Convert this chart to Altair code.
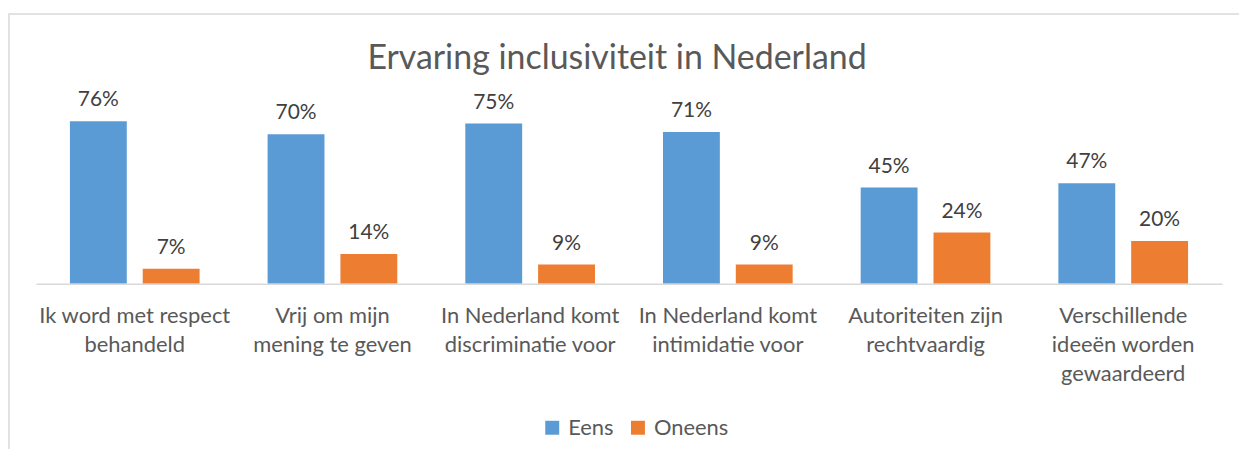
import altair as alt
import pandas as pd

categories = [
    "Ik word met respect|behandeld",
    "Vrij om mijn|mening te geven",
    "In Nederland komt|discriminatie voor",
    "In Nederland komt|intimidatie voor",
    "Autoriteiten zijn|rechtvaardig",
    "Verschillende|ideeën worden|gewaardeerd",
]
eens = [0.76, 0.70, 0.75, 0.71, 0.45, 0.47]
oneens = [0.07, 0.14, 0.09, 0.09, 0.24, 0.20]
series = ["Eens", "Oneens"]
colors = ["#5B9BD5", "#ED7D31"]
title_text = "Ervaring inclusiviteit in Nederland"

rows = []
for c, e, o in zip(categories, eens, oneens):
    rows.append({"cat": c, "serie": "Eens", "val": e})
    rows.append({"cat": c, "serie": "Oneens", "val": o})
df = pd.DataFrame(rows)

W = 1190
H = 171.6
FONT = "Lato"

x = alt.X("cat:N", sort=categories, title=None,
          scale=alt.Scale(paddingInner=0.344, paddingOuter=0.172),
          axis=alt.Axis(labelExpr="split(datum.label, '|')", labelAngle=0,
                        labelFontSize=22, labelColor="#595959", labelFont=FONT,
                        labelLineHeight=29, labelBaseline="top", labelPadding=22,
                        ticks=False, domainColor="#D9D9D9", domainWidth=1.5,
                        labelLimit=250, zindex=1))
xo = alt.XOffset("serie:N", sort=series,
                 scale=alt.Scale(paddingInner=0.219, paddingOuter=0))
y = alt.Y("val:Q", scale=alt.Scale(domain=[0, 0.8]), axis=None)

border = alt.Chart(pd.DataFrame({"a": [0]})).mark_rect(
    fillOpacity=0, stroke="#D9D9D9", strokeWidth=1.5
).encode(x=alt.value(-27), x2=alt.value(W + 80), y=alt.value(-99), y2=alt.value(H + 300))

title = alt.Chart(pd.DataFrame({"t": [title_text]})).mark_text(
    fontSize=34, font=FONT, color="#595959", baseline="alphabetic", align="center"
).encode(x=alt.value(W / 2 - 12), y=alt.value(-44.4), text="t:N")

bars = alt.Chart(df).mark_bar().encode(
    x=x, xOffset=xo, y=y,
    color=alt.Color("serie:N", sort=series,
                    scale=alt.Scale(domain=series, range=colors),
                    legend=alt.Legend(title=None, orient="none", direction="horizontal",
                                      legendX=507, legendY=305,
                                      symbolType="square", symbolSize=196,
                                      symbolStrokeWidth=0,
                                      labelFontSize=22, labelColor="#595959",
                                      labelFont=FONT, labelOffset=5,
                                      columnPadding=13)),
)

labels = alt.Chart(df).mark_text(
    baseline="alphabetic", dy=-15, fontSize=21, color="#404040", font=FONT
).encode(x=x, xOffset=xo, y=y, text=alt.Text("val:Q", format=".0%"))

chart = alt.layer(border, title, bars, labels).properties(
    width=W, height=H,
    autosize=alt.AutoSizeParams(type="none"),
    padding={"left": 28, "top": 104.4, "right": 17, "bottom": 165},
).configure(background="white").configure_view(stroke=None, strokeWidth=0)

chart.save("out.html", embed_options={"renderer": "svg", "actions": False})
